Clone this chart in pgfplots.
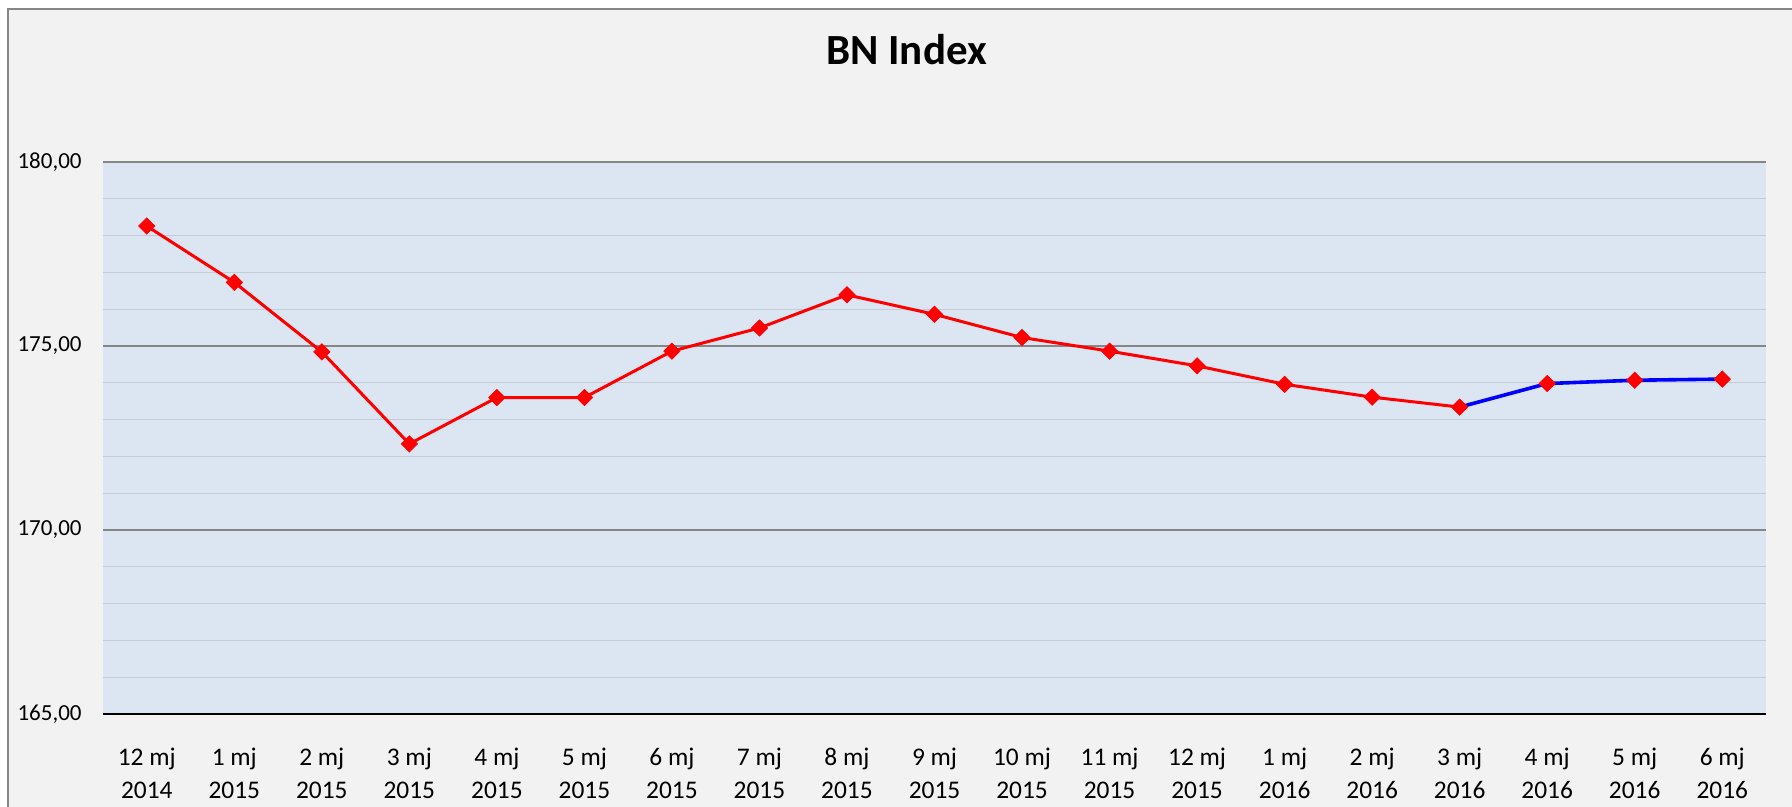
\documentclass[border=0pt]{standalone}
\usepackage{pgfplots}
\pgfplotsset{compat=1.18}
\usepackage{fontspec}
\setmainfont{Carlito}
\definecolor{chartbg}{HTML}{F2F2F2}
\definecolor{plotbg}{HTML}{DCE6F2}
\definecolor{bord}{HTML}{868686}
\definecolor{minorg}{HTML}{C5CCD6}
\begin{document}
\begin{tikzpicture}
\useasboundingbox (0,0) rectangle (896pt,-403.5pt);
\fill[white] (0,0) rectangle (896pt,-403.5pt);
\filldraw[fill=chartbg, draw=bord, line width=1pt] (4pt,-4.5pt) rectangle (912pt,-425pt);
\node[anchor=base, font=\fontsize{21.5}{26}\selectfont\bfseries, inner sep=0pt] at (453.25pt,-32.5pt) {BN Index};
\begin{axis}[
  at={(51.5pt,-81pt)}, anchor=north west,
  scale only axis, width=831.5pt, height=276pt,
  xmin=-0.5, xmax=18.5, ymin=165, ymax=180,
  axis background/.style={fill=plotbg},
  axis line style={draw=none},
  ytick={165,170,175,180},
  yticklabels={{165,00},{170,00},{175,00},{180,00}},
  minor y tick num=4,
  ymajorgrids, yminorgrids,
  major grid style={draw=bord, line width=0.75pt},
  minor grid style={draw=minorg, line width=0.4pt},
  major tick length=0pt, minor tick length=0pt,
  tick style={draw=none},
  xtick={0,...,18},
  xticklabels={{12 mj\\2014},{1 mj\\2015},{2 mj\\2015},{3 mj\\2015},{4 mj\\2015},{5 mj\\2015},{6 mj\\2015},{7 mj\\2015},{8 mj\\2015},{9 mj\\2015},{10 mj\\2015},{11 mj\\2015},{12 mj\\2015},{1 mj\\2016},{2 mj\\2016},{3 mj\\2016},{4 mj\\2016},{5 mj\\2016},{6 mj\\2016}},
  xticklabel style={align=center, anchor=north, inner sep=0pt, yshift=-17pt, font=\fontsize{12.7}{16.3}\selectfont},
  yticklabel style={anchor=east, inner sep=0pt, xshift=-10.5pt, font=\fontsize{11.5}{14}\selectfont},
]
\addplot[blue, line width=1.8pt, no markers] coordinates {
(15,173.34) (16,173.98) (17,174.07) (18,174.10)
};
\addplot[red, line width=1.5pt, mark=square*, mark size=2.9pt, mark options={solid, rotate=45, fill=red, draw=red, line width=0.3pt}] coordinates {
(0,178.26) (1,176.73) (2,174.84) (3,172.34) (4,173.60) (5,173.60) (6,174.86) (7,175.49) (8,176.39) (9,175.86) (10,175.23) (11,174.86) (12,174.46) (13,173.96) (14,173.61) (15,173.34)
};
\addplot[only marks, mark=square*, mark size=2.9pt, mark options={rotate=45, fill=red, draw=red, line width=0.3pt}] coordinates {
(16,173.98) (17,174.07) (18,174.10)
};
\draw[black, line width=1.5pt] (rel axis cs:0,0) -- (rel axis cs:1,0);
\end{axis}
\end{tikzpicture}
\end{document}
